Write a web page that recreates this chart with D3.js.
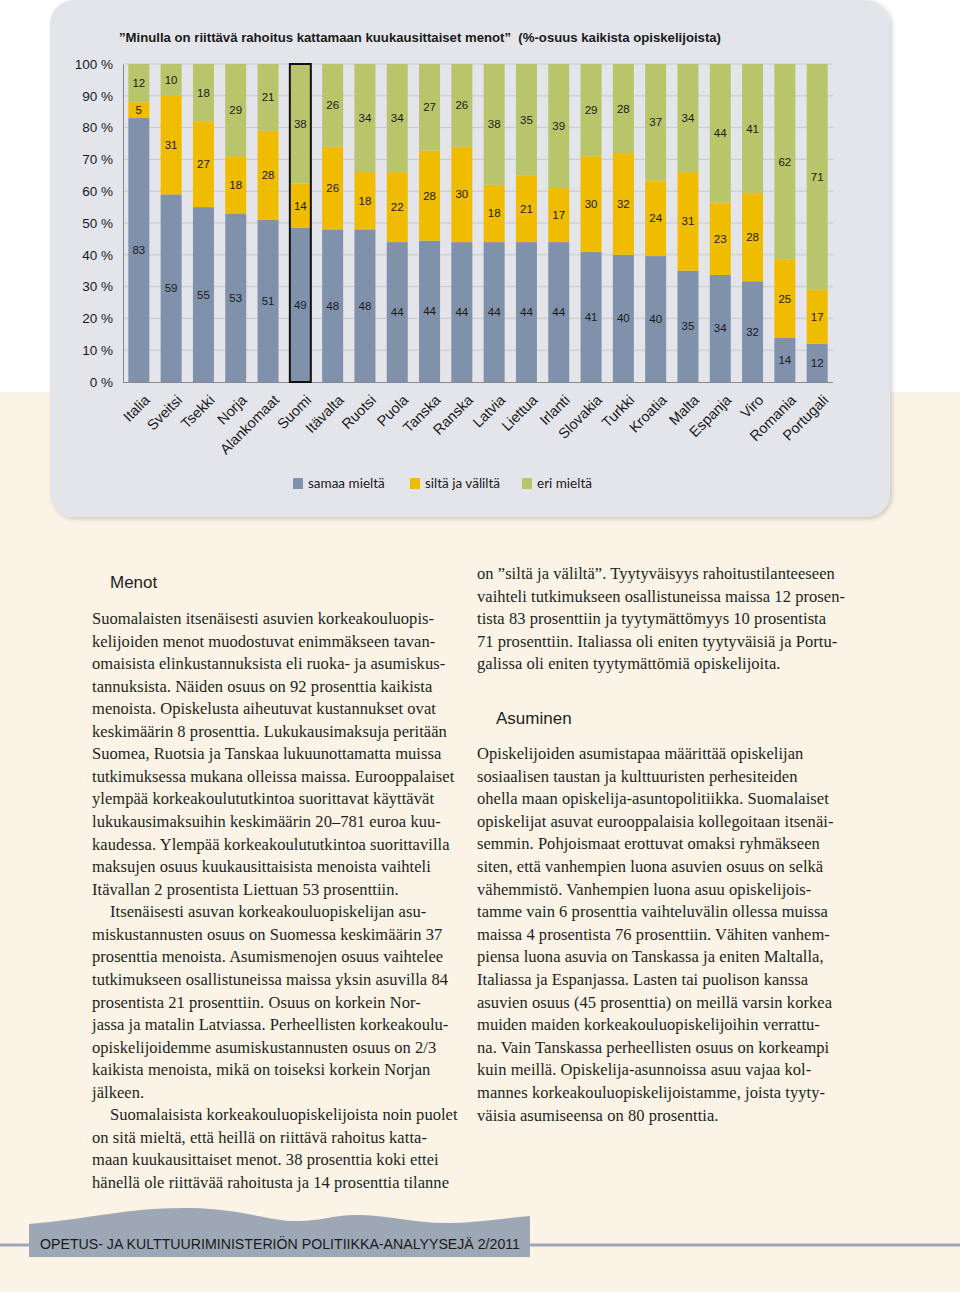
<!DOCTYPE html>
<html>
<head>
<meta charset="utf-8">
<script src="https://cdn.jsdelivr.net/npm/d3@7"></script>
<style>
  body { margin: 0; background: #faf3e6; }
  svg { display: block; }
</style>
</head>
<body>
<div id="page"></div>
<script>
// chart data
var countries = ['Italia', 'Sveitsi', 'Tsekki', 'Norja', 'Alankomaat', 'Suomi', 'Itävalta', 'Ruotsi',
  'Puola', 'Tanska', 'Ranska', 'Latvia', 'Liettua', 'Irlanti', 'Slovakia', 'Turkki', 'Kroatia',
  'Malta', 'Espanja', 'Viro', 'Romania', 'Portugali'];
var agree    = [83, 59, 55, 53, 51, 49, 48, 48, 44, 44, 44, 44, 44, 44, 41, 40, 40, 35, 34, 32, 14, 12];
var neutral  = [5, 31, 27, 18, 28, 14, 26, 18, 22, 28, 30, 18, 21, 17, 30, 32, 24, 31, 23, 28, 25, 17];
var disagree = [12, 10, 18, 29, 21, 38, 26, 34, 34, 27, 26, 38, 35, 39, 29, 28, 37, 34, 44, 41, 62, 71];
var seriesNames = ['samaa mieltä', 'siltä ja väliltä', 'eri mieltä'];
var seriesColors = ['#8091ac', '#f0bc00', '#b9c56a'];
var yTicks = [0, 0.1, 0.2, 0.3, 0.4, 0.5, 0.6, 0.7, 0.8, 0.9, 1];
var highlight = 'Suomi';
var title = '”Minulla on riittävä rahoitus kattamaan kuukausittaiset menot”  (%-osuus kaikista opiskelijoista)';

// article text, one entry per printed line ('\t' = paragraph indent)
var leftLines = [
  'Suomalaisten itsenäisesti asuvien korkeakouluopis-',
  'kelijoiden menot muodostuvat enimmäkseen tavan-',
  'omaisista elinkustannuksista eli ruoka- ja asumiskus-',
  'tannuksista. Näiden osuus on 92 prosenttia kaikista',
  'menoista. Opiskelusta aiheutuvat kustannukset ovat',
  'keskimäärin 8 prosenttia. Lukukausimaksuja peritään',
  'Suomea, Ruotsia ja Tanskaa lukuunottamatta muissa',
  'tutkimuksessa mukana olleissa maissa. Eurooppalaiset',
  'ylempää korkeakoulututkintoa suorittavat käyttävät',
  'lukukausimaksuihin keskimäärin 20–781 euroa kuu-',
  'kaudessa. Ylempää korkeakoulututkintoa suorittavilla',
  'maksujen osuus kuukausittaisista menoista vaihteli',
  'Itävallan 2 prosentista Liettuan 53 prosenttiin.',
  '\tItsenäisesti asuvan korkeakouluopiskelijan asu-',
  'miskustannusten osuus on Suomessa keskimäärin 37',
  'prosenttia menoista. Asumismenojen osuus vaihtelee',
  'tutkimukseen osallistuneissa maissa yksin asuvilla 84',
  'prosentista 21 prosenttiin. Osuus on korkein Nor-',
  'jassa ja matalin Latviassa. Perheellisten korkeakoulu-',
  'opiskelijoidemme asumiskustannusten osuus on 2/3',
  'kaikista menoista, mikä on toiseksi korkein Norjan',
  'jälkeen.',
  '\tSuomalaisista korkeakouluopiskelijoista noin puolet',
  'on sitä mieltä, että heillä on riittävä rahoitus katta-',
  'maan kuukausittaiset menot. 38 prosenttia koki ettei',
  'hänellä ole riittävää rahoitusta ja 14 prosenttia tilanne'
];
var rightTop = [
  'on ”siltä ja väliltä”. Tyytyväisyys rahoitustilanteeseen',
  'vaihteli tutkimukseen osallistuneissa maissa 12 prosen-',
  'tista 83 prosenttiin ja tyytymättömyys 10 prosentista',
  '71 prosenttiin. Italiassa oli eniten tyytyväisiä ja Portu-',
  'galissa oli eniten tyytymättömiä opiskelijoita.'
];
var rightBottom = [
  'Opiskelijoiden asumistapaa määrittää opiskelijan',
  'sosiaalisen taustan ja kulttuuristen perhesiteiden',
  'ohella maan opiskelija-asuntopolitiikka. Suomalaiset',
  'opiskelijat asuvat eurooppalaisia kollegoitaan itsenäi-',
  'semmin. Pohjoismaat erottuvat omaksi ryhmäkseen',
  'siten, että vanhempien luona asuvien osuus on selkä',
  'vähemmistö. Vanhempien luona asuu opiskelijois-',
  'tamme vain 6 prosenttia vaihteluvälin ollessa muissa',
  'maissa 4 prosentista 76 prosenttiin. Vähiten vanhem-',
  'piensa luona asuvia on Tanskassa ja eniten Maltalla,',
  'Italiassa ja Espanjassa. Lasten tai puolison kanssa',
  'asuvien osuus (45 prosenttia) on meillä varsin korkea',
  'muiden maiden korkeakouluopiskelijoihin verrattu-',
  'na. Vain Tanskassa perheellisten osuus on korkeampi',
  'kuin meillä. Opiskelija-asunnoissa asuu vajaa kol-',
  'mannes korkeakouluopiskelijoistamme, joista tyyty-',
  'väisia asumiseensa on 80 prosenttia.'
];
var footerText = 'OPETUS- JA KULTTUURIMINISTERIÖN POLITIIKKA-ANALYYSEJÄ 2/2011';

var width = 960, height = 1292;
var sans = '"Liberation Sans", Arial, sans-serif';
var serif = '"Liberation Serif", "Times New Roman", serif';

var svg = d3.select('#page').append('svg')
  .attr('width', width)
  .attr('height', height);

// page background: white top band, cream below
svg.append('rect').attr('width', width).attr('height', height).attr('fill', '#faf3e6');
svg.append('rect').attr('width', width).attr('height', 392).attr('fill', '#ffffff');

var defs = svg.append('defs');
defs.append('filter').attr('id', 'shadow')
  .attr('x', '-5%').attr('y', '-5%').attr('width', '110%').attr('height', '110%')
  .append('feDropShadow')
  .attr('dx', 2).attr('dy', 2).attr('stdDeviation', 2)
  .attr('flood-color', '#000').attr('flood-opacity', 0.18);

// chart panel
svg.append('rect')
  .attr('x', 50).attr('y', 0)
  .attr('width', 840).attr('height', 517)
  .attr('rx', 24)
  .attr('fill', '#e4e5eb')
  .attr('filter', 'url(#shadow)');

svg.append('text')
  .attr('x', 119).attr('y', 42)
  .attr('font-family', sans)
  .attr('font-weight', 'bold')
  .attr('font-size', 13.5)
  .attr('fill', '#1a1a1a')
  .attr('textLength', 602)
  .attr('lengthAdjust', 'spacingAndGlyphs')
  .style('white-space', 'pre')
  .text(title);

// scales
var x = d3.scaleBand()
  .domain(countries)
  .range([123, 833])
  .paddingInner(0.35)
  .paddingOuter(0.165);

var y = d3.scaleLinear()
  .domain([0, 1])
  .range([382, 64]);

var rows = countries.map(function (c, i) {
  return { country: c, agree: agree[i], neutral: neutral[i], disagree: disagree[i] };
});
var keys = ['agree', 'neutral', 'disagree'];
var stacked = d3.stack().keys(keys).offset(d3.stackOffsetExpand)(rows);

// gridlines
svg.append('g')
  .selectAll('line')
  .data(yTicks.slice(1)).enter()
  .append('line')
  .attr('x1', 123).attr('x2', 833)
  .attr('y1', function (d) { return y(d); })
  .attr('y2', function (d) { return y(d); })
  .attr('stroke', '#c6c7cc')
  .attr('stroke-width', 1);

// y axis
var yAxis = svg.append('g')
  .attr('transform', 'translate(123,0)')
  .call(d3.axisLeft(y)
    .tickValues(yTicks)
    .tickSize(0)
    .tickPadding(10)
    .tickFormat(function (d) { return Math.round(d * 100) + ' %'; }));
yAxis.select('.domain').attr('stroke', '#8a8a8e');
yAxis.selectAll('text')
  .attr('font-family', sans)
  .attr('font-size', 13.5)
  .attr('fill', '#1a1a1a');

// bars
var layers = svg.append('g')
  .selectAll('g')
  .data(stacked).enter()
  .append('g')
  .attr('fill', function (d, i) { return seriesColors[i]; });

layers.selectAll('rect')
  .data(function (d) { return d; }).enter()
  .append('rect')
  .attr('x', function (d) { return x(d.data.country); })
  .attr('width', x.bandwidth())
  .attr('y', function (d) { return y(d[1]); })
  .attr('height', function (d) { return y(d[0]) - y(d[1]); });

// value labels
layers.each(function (layer) {
  var key = layer.key;
  d3.select(this).selectAll('text')
    .data(layer).enter()
    .append('text')
    .attr('x', function (d) { return x(d.data.country) + x.bandwidth() / 2; })
    .attr('y', function (d) { return y((d[0] + d[1]) / 2) + 4; })
    .attr('text-anchor', 'middle')
    .attr('font-family', sans)
    .attr('font-size', 11.5)
    .attr('fill', '#1a1a1a')
    .text(function (d) { return d.data[key]; });
});

// x axis line
svg.append('line')
  .attr('x1', 123).attr('x2', 833)
  .attr('y1', 382.5).attr('y2', 382.5)
  .attr('stroke', '#8a8a8e')
  .attr('stroke-width', 1.2);

// highlighted country
svg.append('rect')
  .attr('x', x(highlight))
  .attr('y', y(1))
  .attr('width', x.bandwidth())
  .attr('height', y(0) - y(1))
  .attr('fill', 'none')
  .attr('stroke', '#111')
  .attr('stroke-width', 2);

// country labels
svg.append('g')
  .selectAll('text')
  .data(countries).enter()
  .append('text')
  .attr('transform', function (d) {
    return 'translate(' + (x(d) + x.bandwidth() / 2 + 12) + ',401) rotate(-45)';
  })
  .attr('text-anchor', 'end')
  .attr('font-family', sans)
  .attr('font-size', 14.5)
  .attr('fill', '#1a1a1a')
  .text(function (d) { return d; });

// legend
var legendX = [293, 410, 522];
var legend = svg.append('g')
  .selectAll('g')
  .data(seriesNames).enter()
  .append('g')
  .attr('transform', function (d, i) { return 'translate(' + legendX[i] + ',478)'; });
legend.append('rect')
  .attr('width', 10).attr('height', 11)
  .attr('fill', function (d, i) { return seriesColors[i]; });
legend.append('text')
  .attr('x', 15).attr('y', 10)
  .attr('font-family', 'Lato, "Open Sans", sans-serif')
  .attr('font-size', 13.5)
  .attr('fill', '#1a1a1a')
  .text(function (d) { return d; });

// article text
function drawLines(lines, x0, y0, step) {
  svg.append('g')
    .selectAll('text')
    .data(lines).enter()
    .append('text')
    .attr('x', function (d) { return d.charAt(0) === '\t' ? x0 + 18 : x0; })
    .attr('y', function (d, i) { return y0 + i * step; })
    .attr('font-family', serif)
    .attr('font-size', 16.5)
    .attr('letter-spacing', 0.05)
    .attr('fill', '#231f20')
    .text(function (d) { return d.replace('\t', ''); });
}

svg.append('text')
  .attr('x', 110).attr('y', 588)
  .attr('font-family', sans).attr('font-size', 17).attr('fill', '#231f20')
  .text('Menot');
svg.append('text')
  .attr('x', 496).attr('y', 724)
  .attr('font-family', sans).attr('font-size', 17).attr('fill', '#231f20')
  .text('Asuminen');

drawLines(leftLines, 92, 624, 22.56);
drawLines(rightTop, 477, 579, 22.56);
drawLines(rightBottom, 477, 759, 22.6);

// footer band
svg.append('line')
  .attr('x1', 0).attr('x2', width)
  .attr('y1', 1245).attr('y2', 1245)
  .attr('stroke', '#9ea7b5')
  .attr('stroke-width', 3);
svg.append('path')
  .attr('d', 'M29,1257 L29,1224 C90,1219 130,1207 190,1208 C245,1209 270,1222 300,1221 ' +
    'C325,1220 335,1215 356,1215 C390,1215 415,1224 452,1223 C485,1222 505,1218 530,1216 L530,1257 Z')
  .attr('fill', '#9ea7b5');
svg.append('text')
  .attr('x', 40).attr('y', 1249)
  .attr('font-family', sans)
  .attr('font-size', 14)
  .attr('fill', '#1a1a1a')
  .attr('textLength', 480)
  .attr('lengthAdjust', 'spacingAndGlyphs')
  .text(footerText);
</script>
</body>
</html>
